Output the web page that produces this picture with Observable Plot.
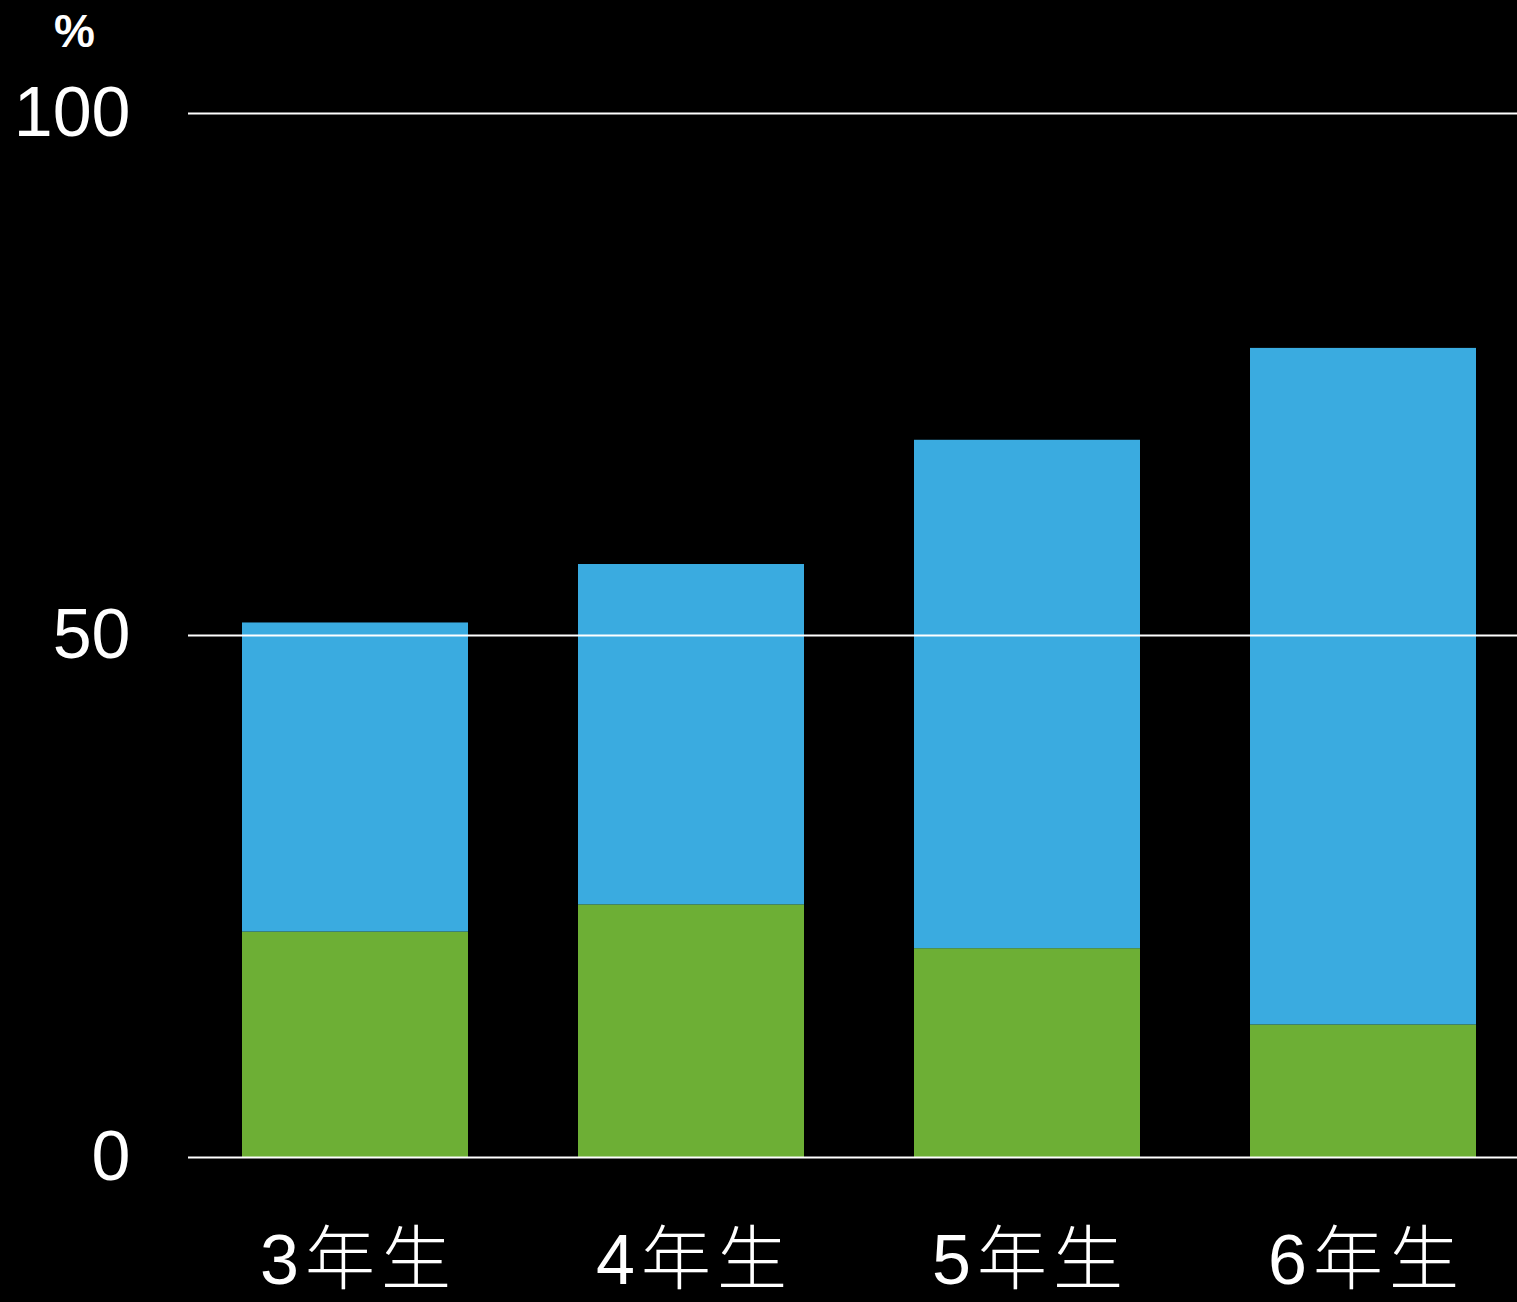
<!DOCTYPE html>
<html>
<head>
<meta charset="utf-8">
<script src="https://cdn.jsdelivr.net/npm/d3@7"></script>
<script src="https://cdn.jsdelivr.net/npm/@observablehq/plot@0.6"></script>
<style>
  html, body { margin: 0; padding: 0; background: #000; overflow: hidden; }
  #wrap { position: relative; width: 1517px; height: 1302px; }
  #unit { position: absolute; left: 54px; top: 4px; color: #fff; font: bold 46px "Liberation Sans", Arial, sans-serif; }
  svg { display: block; }
  g[aria-label="x-axis tick label"] text { letter-spacing: 6px; }
</style>
</head>
<body>
<div id="wrap"><div id="unit">%</div></div>
<script>
const grades = ["3年生", "4年生", "5年生", "6年生"];
const lowerValues = [21.6, 24.2, 20.0, 12.7];
const upperValues = [29.6, 32.6, 48.7, 64.8];
const yTicks = [0, 50, 100];
const seriesNames = ["下段", "上段"];
const seriesColors = ["#6daf35", "#3aabe0"];

const rows = [];
grades.forEach((g, i) => {
  rows.push({grade: g, series: seriesNames[0], value: lowerValues[i]});
  rows.push({grade: g, series: seriesNames[1], value: upperValues[i]});
});

const chart = Plot.plot({
  width: 1517,
  height: 1302,
  marginTop: 113,
  marginBottom: 145,
  marginLeft: 188,
  marginRight: 0,
  style: {background: "#000", color: "#fff", fontFamily: "'Liberation Sans', sans-serif"},
  x: {domain: grades, range: [187, 1531], paddingInner: 0.327, paddingOuter: 0.163},
  y: {domain: [0, 100]},
  color: {domain: seriesNames, range: seriesColors},
  marks: [
    Plot.barY(rows, Plot.stackY({x: "grade", y: "value", fill: "series", order: seriesNames})),
    Plot.ruleY(yTicks, {stroke: "#fff", strokeWidth: 2}),
    Plot.axisY(yTicks, {tickSize: 0, tickPadding: 58, fontSize: 70, label: null, fill: "#fff", fontFamily: "'Liberation Sans', Arial, sans-serif"}),
    Plot.axisX({tickSize: 0, tickPadding: 77, fontSize: 70, label: null, fill: "#fff", fontFamily: "'Liberation Sans', 'Noto Sans CJK JP', sans-serif", fontWeight: 300, dx: 3})
  ]
});
document.getElementById("wrap").prepend(chart);
</script>
</body>
</html>
